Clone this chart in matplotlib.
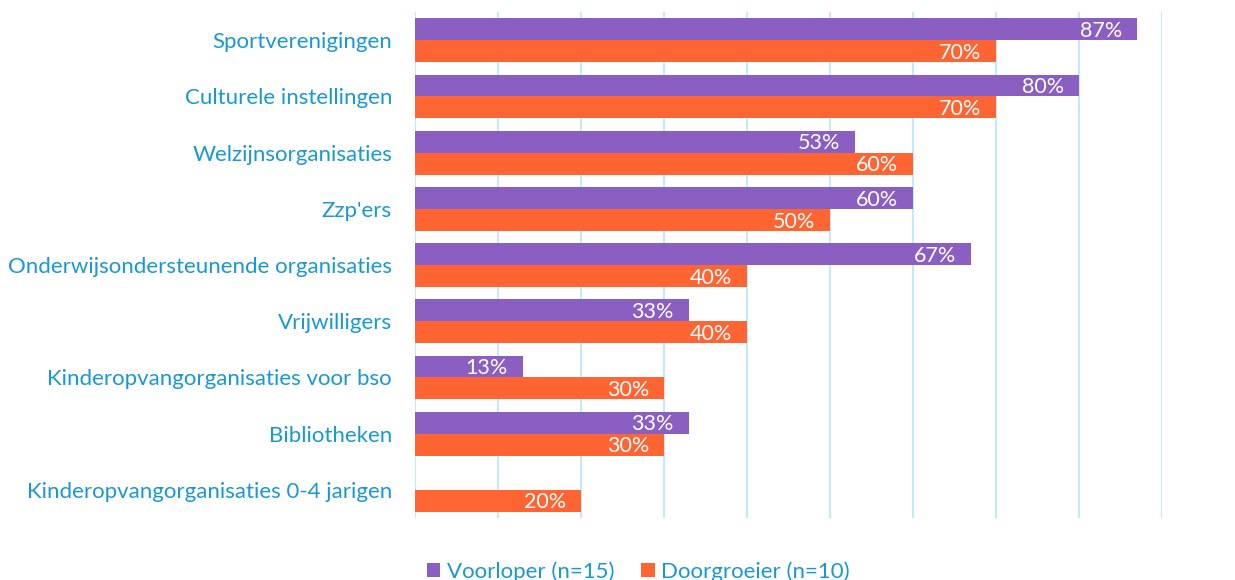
import matplotlib.pyplot as plt
import numpy as np

categories = [
    "Sportverenigingen", "Culturele instellingen", "Welzijnsorganisaties",
    "Zzp'ers", "Onderwijsondersteunende organisaties", "Vrijwilligers",
    "Kinderopvangorganisaties voor bso", "Bibliotheken",
    "Kinderopvangorganisaties 0-4 jarigen",
]
voorloper = [87, 80, 53, 60, 67, 33, 13, 33, None]
doorgroeier = [70, 70, 60, 50, 40, 40, 30, 30, 20]
series_names = ["Voorloper (n=15)", "Doorgroeier (n=10)"]

purple = "#8B5FC2"
orange = "#FF6433"
blue = "#1A98D2"
grid_col = "#C4EAF8"

plt.rcParams['font.family'] = ['Lato', 'DejaVu Sans']

fig = plt.figure(figsize=(12.35, 5.8), dpi=100)
ax = fig.add_axes([0.336, 0.107, 0.605, 0.872])

y = np.arange(len(categories))
h = 0.39
vp = [v if v is not None else 0 for v in voorloper]
b1 = ax.barh(y - h / 2, vp, height=h, color=purple, label=series_names[0])
b2 = ax.barh(y + h / 2, doorgroeier, height=h, color=orange, label=series_names[1])

for vals, yy in ((voorloper, y - h / 2), (doorgroeier, y + h / 2)):
    for v, yc in zip(vals, yy):
        if v is None:
            continue
        ax.text(v - 1.8, yc + 0.03, f"{v}%", ha='right', va='center', color='white', fontsize=15.5)

ax.set_xlim(0, 90)
ax.set_ylim(len(categories) - 0.5, -0.5)
ax.set_xticks(np.arange(0, 91, 10))
ax.xaxis.grid(True, color=grid_col, linewidth=1.5)
ax.set_axisbelow(True)
ax.tick_params(axis='x', labelbottom=False, length=0)
ax.tick_params(axis='y', length=0, pad=16.5)
ax.set_yticks(y)
ax.set_yticklabels(categories, color=blue, fontsize=16)
for s in ax.spines.values():
    s.set_visible(False)

leg = fig.legend(handles=[b1, b2], labels=series_names, loc='lower center',
                 bbox_to_anchor=(0.517, -0.038), ncol=2, frameon=False,
                 fontsize=16, handlelength=0.6, handleheight=0.6,
                 handletextpad=0.3, columnspacing=1.2)
for t in leg.get_texts():
    t.set_color(blue)

fig.savefig("out.png", dpi=100)
